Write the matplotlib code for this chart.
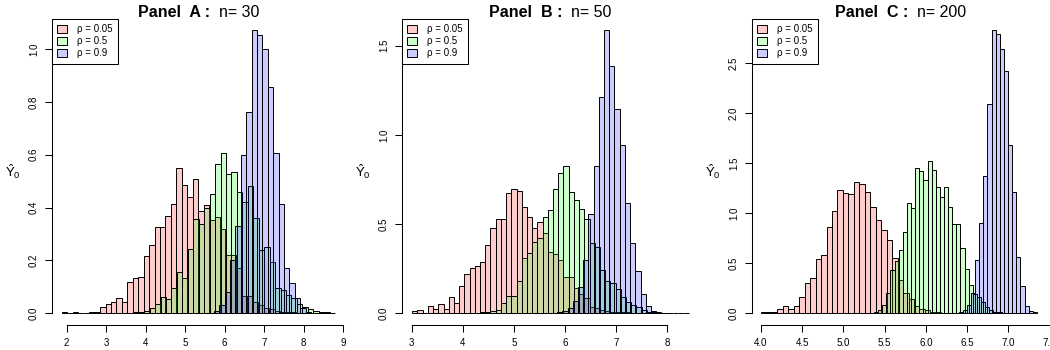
import matplotlib.pyplot as plt
from matplotlib.patches import Patch
from matplotlib.offsetbox import TextArea, HPacker, AnchoredOffsetbox
import numpy as np

plt.rcParams['font.family'] = 'Liberation Sans'
plt.rcParams['mathtext.fontset'] = 'custom'
plt.rcParams['mathtext.rm'] = 'Liberation Sans'
plt.rcParams['mathtext.it'] = 'Liberation Sans:italic'

panel_labels = ['A', 'B', 'C']
sample_sizes = [30, 50, 200]
rho_labels = ['ρ = 0.05', 'ρ = 0.5', 'ρ = 0.9']

# histogram densities: (first break, bin width, heights)
a_red_start, a_red_width = 1.878, 0.138
a_red = [0.003, 0, 0.003, 0, 0, 0.003, 0.005, 0.023, 0.034, 0.043, 0.057, 0.043,
         0.119, 0.134, 0.137, 0.216, 0.257, 0.325, 0.325, 0.369, 0.414, 0.550,
         0.487, 0.441, 0.508, 0.387, 0.41, 0.353, 0.364, 0.318, 0.22, 0.22, 0.17,
         0.066, 0.066, 0.044, 0.03, 0.02, 0.015, 0.01, 0.005, 0.003, 0.003, 0.002,
         0.002, 0.002, 0.001, 0.001, 0.001, 0.001]
a_green_start, a_green_width = 3.686, 0.138
a_green = [0.003, 0.005, 0.008, 0.02, 0.035, 0.06, 0.054, 0.097, 0.155, 0.135,
           0.242, 0.358, 0.338, 0.40, 0.45, 0.564, 0.605, 0.527, 0.536, 0.46,
           0.42, 0.48, 0.36, 0.24, 0.25, 0.195, 0.095, 0.088, 0.068, 0.057,
           0.034, 0.023, 0.015, 0.01, 0.005, 0.003]
a_blue_start, a_blue_width = 5.72, 0.137
a_blue = [0.01, 0.03, 0.08, 0.2, 0.33, 0.598, 0.76, 1.072, 1.054, 0.999, 0.857,
          0.608, 0.414, 0.17, 0.113, 0.057, 0.019, 0.005]

b_red_start, b_red_width = 3.01, 0.102
b_red = [0.011, 0.019, 0.004, 0.041, 0.022, 0.05, 0.022, 0.09, 0.06, 0.153, 0.22,
         0.252, 0.267, 0.286, 0.381, 0.478, 0.527, 0.527, 0.673, 0.695, 0.684,
         0.594, 0.542, 0.476, 0.51, 0.45, 0.346, 0.33, 0.30, 0.205, 0.205, 0.14,
         0.11, 0.084, 0.037, 0.03, 0.02, 0.015, 0.01, 0.008, 0.006, 0.005, 0.004,
         0.003, 0.003, 0.002, 0.002, 0.001, 0.001, 0.001, 0.001, 0.001, 0.001]
b_green_start, b_green_width = 3.928, 0.102
b_green = [0.002, 0.002, 0.004, 0.004, 0.006, 0.008, 0.012, 0.02, 0.056, 0.097,
           0.097, 0.18, 0.31, 0.336, 0.40, 0.42, 0.54, 0.58, 0.695, 0.785, 0.828,
           0.682, 0.635, 0.583, 0.527, 0.396, 0.37, 0.243, 0.181, 0.168, 0.135,
           0.093, 0.065, 0.047, 0.034, 0.019, 0.01, 0.005, 0.003, 0.002]
b_blue_start, b_blue_width = 5.845, 0.102
b_blue = [0.005, 0.012, 0.03, 0.07, 0.15, 0.3, 0.555, 0.828, 1.214, 1.588, 1.386,
          1.143, 0.942, 0.62, 0.396, 0.239, 0.108, 0.041, 0.015, 0.005, 0.002]

c_red_start, c_red_width = 4.0, 0.0663
c_red = [0.01, 0.017, 0.017, 0.04, 0.073, 0.04, 0.073, 0.167, 0.30, 0.35, 0.547,
         0.583, 0.86, 1.02, 1.237, 1.207, 1.19, 1.317, 1.29, 1.21, 1.06, 0.93,
         0.83, 0.73, 0.55, 0.33, 0.20, 0.14, 0.077, 0.04, 0.03, 0.015, 0.01,
         0.005, 0.003, 0.002]
c_green_start, c_green_width = 5.37, 0.05
c_green = [0.01, 0.03, 0.08, 0.2, 0.43, 0.527, 0.63, 0.81, 1.1, 1.05, 1.45, 1.427,
           1.333, 1.523, 1.433, 1.267, 1.16, 1.26, 1.06, 0.893, 0.893, 0.657,
           0.44, 0.28, 0.19, 0.16, 0.11, 0.06, 0.03, 0.015, 0.01, 0.005]
c_blue_start, c_blue_width = 6.397, 0.05
c_blue = [0.01, 0.03, 0.08, 0.2, 0.533, 0.907, 1.373, 2.093, 2.833, 2.793, 2.64,
          2.427, 1.683, 1.21, 0.567, 0.277, 0.073, 0.027, 0.013]

a_xticks = [2, 3, 4, 5, 6, 7, 8, 9]
b_xticks = [3, 4, 5, 6, 7, 8]
c_xticks = [4.0, 4.5, 5.0, 5.5, 6.0, 6.5, 7.0, 7.5]
a_yticks = [0.0, 0.2, 0.4, 0.6, 0.8, 1.0]
b_yticks = [0.0, 0.5, 1.0, 1.5]
c_yticks = [0.0, 0.5, 1.0, 1.5, 2.0, 2.5]

fills = [(1, 0, 0, 0.2), (0, 1, 0, 0.2), (0, 0, 1, 0.2)]

series = [
    [(a_red_start, a_red_width, a_red), (a_green_start, a_green_width, a_green),
     (a_blue_start, a_blue_width, a_blue)],
    [(b_red_start, b_red_width, b_red), (b_green_start, b_green_width, b_green),
     (b_blue_start, b_blue_width, b_blue)],
    [(c_red_start, c_red_width, c_red), (c_green_start, c_green_width, c_green),
     (c_blue_start, c_blue_width, c_blue)],
]
xticks = [a_xticks, b_xticks, c_xticks]
yticks = [a_yticks, b_yticks, c_yticks]
xtick_fmt = ['{:g}', '{:g}', '{:.1f}']

# layout in pixels (left, right) of each plot region, plus axis limits
W, H = 1050, 350
regions = [(51.5, 346), (401.5, 699.5), (751.5, 1050)]
top_px, bottom_px = 18.5, 325
xlims = [(1.615, 9.069), (2.80, 8.630), (3.885, 7.506)]
ylims = [(-0.0443, 1.1154), (-0.0656, 1.6525), (-0.117, 2.948)]

fig = plt.figure(figsize=(W / 100, H / 100), dpi=100)

for i in range(3):
    l, r = regions[i]
    ax = fig.add_axes([l / W, (H - bottom_px) / H, (r - l) / W,
                       (bottom_px - top_px) / H])
    for (start, width, heights), col in zip(series[i], fills):
        edges = start + width * np.arange(len(heights))
        ax.bar(edges, heights, width=width, align='edge', color=col,
               edgecolor='black', linewidth=0.7)

    ax.set_xlim(*xlims[i])
    ax.set_ylim(*ylims[i])
    ax.spines['top'].set_visible(False)
    ax.spines['right'].set_visible(False)
    ax.spines['bottom'].set_bounds(xticks[i][0], xticks[i][-1])
    ax.spines['left'].set_bounds(yticks[i][0], yticks[i][-1])
    for s in ['bottom', 'left']:
        ax.spines[s].set_linewidth(0.75)
    ax.set_xticks(xticks[i])
    ax.set_xticklabels([xtick_fmt[i].format(v) for v in xticks[i]])
    ax.set_yticks(yticks[i])
    ax.set_yticklabels(['{:.1f}'.format(v) for v in yticks[i]], rotation=90,
                       va='center')
    ax.tick_params(length=5, width=0.75, labelsize=7, pad=4)

    handles = [Patch(facecolor=c, edgecolor='black', linewidth=0.7) for c in fills]
    leg = ax.legend(handles, rho_labels, loc='upper left', bbox_to_anchor=(0, 1),
                    borderaxespad=0, fancybox=False, edgecolor='black',
                    framealpha=1, fontsize=7, handlelength=1.0, handleheight=0.8,
                    handletextpad=1.0, labelspacing=0.2, borderpad=0.6)
    leg.get_frame().set_linewidth(0.75)

    t1 = TextArea('Panel  {} :'.format(panel_labels[i]),
                  textprops=dict(fontsize=11.5, fontweight='bold'))
    t2 = TextArea('n= {}'.format(sample_sizes[i]), textprops=dict(fontsize=11.5))
    hp = HPacker(children=[t1, t2], align='baseline', pad=0, sep=6)
    title = AnchoredOffsetbox(loc='center', child=hp, pad=0, borderpad=0,
                              frameon=False, bbox_to_anchor=(0.5, 1.019),
                              bbox_transform=ax.transAxes)
    ax.add_artist(title)

    fig.text((350 * i + 13) / W, (H - 172) / H, r'$\hat{\mathrm{Y}}_0$',
             fontsize=9.5, ha='center', va='center')

fig.savefig('out.png', dpi=100)
